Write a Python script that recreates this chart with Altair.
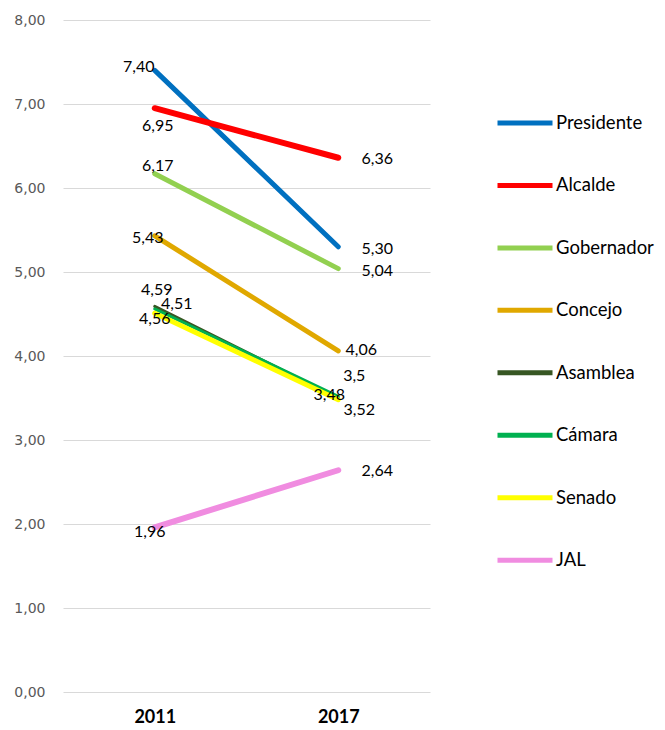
import altair as alt
import pandas as pd

years = ["2011", "2017"]
series = ["Presidente", "Alcalde", "Gobernador", "Concejo", "Asamblea", "Cámara", "Senado", "JAL"]
v2011 = [7.40, 6.95, 6.17, 5.43, 4.59, 4.56, 4.51, 1.96]
v2017 = [5.30, 6.36, 5.04, 4.06, 3.50, 3.52, 3.48, 2.64]
label2011 = ["7,40", "6,95", "6,17", "5,43", "4,59", "4,56", "4,51", "1,96"]
label2017 = ["5,30", "6,36", "5,04", "4,06", "3,5", "3,52", "3,48", "2,64"]
y_ticks = [0, 1, 2, 3, 4, 5, 6, 7, 8]

# styles (not data)
colors = ["#0070C0", "#FF0000", "#92D050", "#E0A800", "#375623", "#00B050", "#FFFF00", "#F08CE0"]
widths = [5, 6, 5, 5, 3, 3, 5, 6]
off2011 = [(-16, -3), (3, 18), (3, -8), (-7, 2), (2, -16), (0, 10), (22, -9), (-5, 5)]
off2017 = [(39, 2), (39, 1), (39, 2), (23, -1), (16, -22), (21, 14), (-9, -5), (39, 1)]

rows = []
for i, s in enumerate(series):
    rows.append({"serie": s, "year": years[0], "value": v2011[i], "label": label2011[i], "w": widths[i]})
    rows.append({"serie": s, "year": years[1], "value": v2017[i], "label": label2017[i], "w": widths[i]})
df = pd.DataFrame(rows)

FONT = "Lato"

x_enc = alt.X("year:N", sort=years, scale=alt.Scale(type="point", padding=0.5),
              axis=alt.Axis(title=None, labelFont=FONT, labelFontSize=18, labelFontWeight="bold",
                            labelColor="#000000", labelPadding=16, ticks=False, domain=False,
                            grid=False, labelAngle=0))
y_enc = alt.Y("value:Q", scale=alt.Scale(domain=[0, 8], nice=False),
              axis=alt.Axis(title=None, values=y_ticks, labelFont="DejaVu Sans",
                            labelFontSize=14, labelColor="#595959", labelPadding=18,
                            ticks=False, domain=False, gridColor="#D9D9D9", gridWidth=1,
                            labelExpr="replace(format(datum.value, '.2f'), '.', ',')"))

legend = alt.Legend(
    orient="none", legendX=432, legendY=73, title=None, symbolType="stroke",
    symbolSize=3025, symbolStrokeWidth=5, labelFont=FONT, labelFontSize=18.5,
    labelColor="#000000", rowPadding=22.45, labelOffset=1, labelLimit=200,
)

base = alt.Chart(df)
lines = base.mark_line(strokeCap="round", strokeJoin="round").encode(
    x=x_enc, y=y_enc,
    color=alt.Color("serie:N", sort=series, scale=alt.Scale(domain=series, range=colors), legend=legend),
    strokeWidth=alt.StrokeWidth("w:Q", scale=None),
    order=alt.Order("year:N"),
)

layers = [lines]
for i, s in enumerate(series):
    for yr, off in ((years[0], off2011[i]), (years[1], off2017[i])):
        layers.append(
            base.transform_filter((alt.datum.serie == s) & (alt.datum.year == yr))
            .mark_text(font=FONT, fontSize=16, color="#000000", dx=off[0], dy=off[1],
                       align="center", baseline="middle")
            .encode(x=alt.X("year:N", sort=years), y=alt.Y("value:Q"), text="label:N")
        )

chart = alt.layer(*layers).properties(
    width=367, height=672,
    background="#FFFFFF",
    autosize=alt.AutoSizeParams(type="none"),
    padding={"left": 55, "top": 12, "right": 226, "bottom": 36},
).configure_view(strokeWidth=0, stroke="transparent")

chart.save("out.html", embed_options={"renderer": "svg", "actions": False})
